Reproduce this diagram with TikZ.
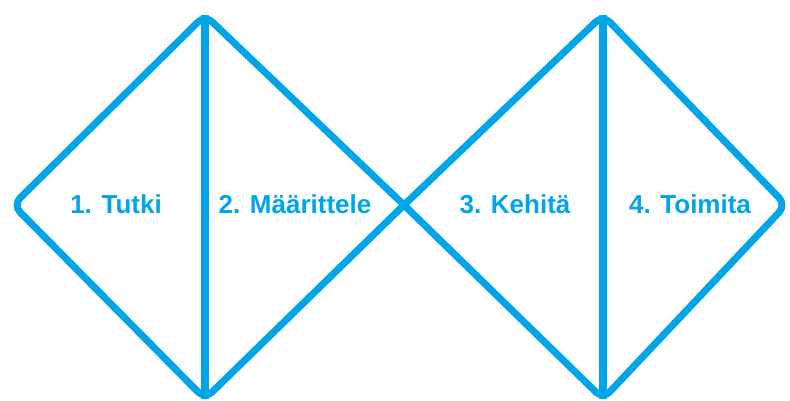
\documentclass[tikz,border=0pt]{standalone}
\usepackage{fontspec}
\setmainfont{Liberation Sans}
\usetikzlibrary{positioning}
\definecolor{sky}{HTML}{00A4E9}

\begin{document}
\begin{tikzpicture}[x=1pt,y=-1pt,
edge/.style={draw=sky,line width=7pt,rounded corners=10pt,line join=round,line cap=rect},
mid/.style={draw=sky,line width=7.5pt},
phase/.style={text=sky,font=\bfseries\fontsize{26}{30}\selectfont,inner sep=0pt}]
\useasboundingbox (0,0) rectangle (790,401);
% vertices of the two diamonds
\coordinate (left) at (13,205);
\coordinate (top1) at (205,15);
\coordinate (bot1) at (205,399);
\coordinate (cross) at (404,205);
\coordinate (top2) at (603,15);
\coordinate (bot2) at (603,399);
\coordinate (right) at (786,205);
\draw[edge] (cross) -- (top1) -- (left) -- (bot1) -- (cross);
\draw[edge] (cross) -- (top2) -- (right) -- (bot2) -- (cross);
\draw[mid] (top1) -- (bot1);
\draw[mid] (top2) -- (bot2);
% phases
\node[phase] (tutki) at (116,204) {1. Tutki};
\node[phase] (maar) at (295,204) {2. Määrittele};
\node[phase] (kehi) at (515,204) {3. Kehitä};
\node[phase] (toim) at (690,204) {4. Toimita};
\end{tikzpicture}
\end{document}
